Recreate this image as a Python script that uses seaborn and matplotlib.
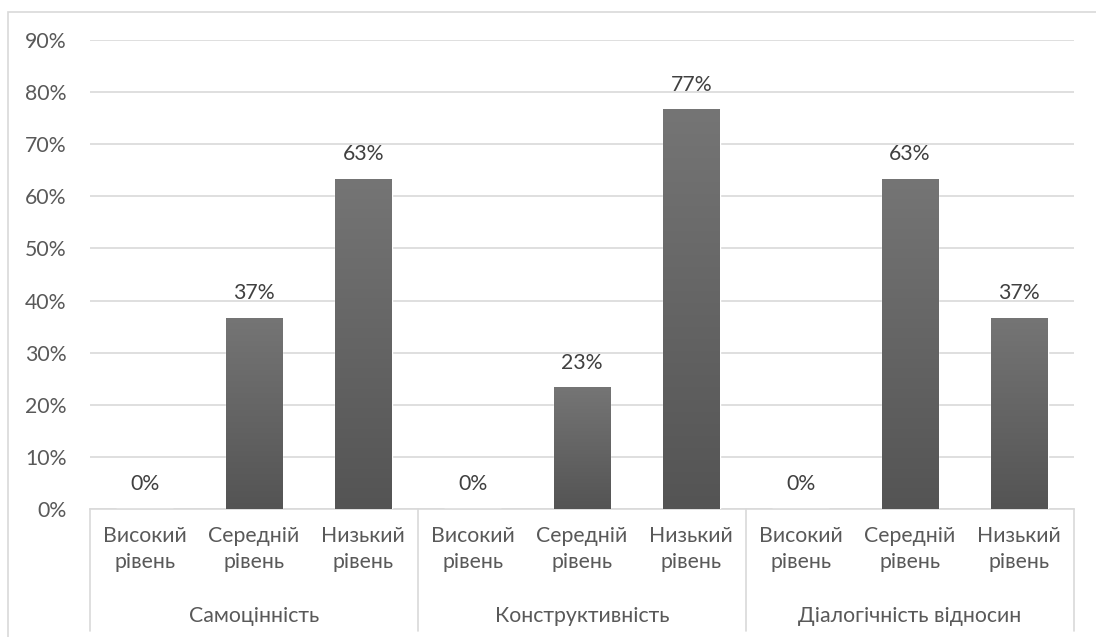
import numpy as np
import pandas as pd
import seaborn as sns
import matplotlib.pyplot as plt
from matplotlib.patches import Rectangle
from matplotlib.colors import LinearSegmentedColormap

sns.set_style("white")
plt.rcParams['font.family'] = ['Lato', 'DejaVu Sans']

groups = ['Самоцінність', 'Конструктивність', 'Діалогічність відносин']
levels = ['Високий\nрівень', 'Середній\nрівень', 'Низький\nрівень']
values = [0.0, 0.3667, 0.6333,
          0.0, 0.2333, 0.7667,
          0.0, 0.6333, 0.3667]
yticks = [0, 0.1, 0.2, 0.3, 0.4, 0.5, 0.6, 0.7, 0.8, 0.9]

FS = 15.3
TXT = '#595959'

df = pd.DataFrame({
    'pos': [f'{g}|{l}' for g in groups for l in levels],
    'value': values,
})

fig = plt.figure(figsize=(10.96, 6.37), dpi=100)
ax = fig.add_axes([90 / 1096, 1 - 509 / 637, (1074 - 90) / 1096, (509 - 40) / 637])

sns.barplot(data=df, x='pos', y='value', color='#5f5f5f', width=0.52,
            saturation=1, ax=ax, zorder=3)

# gradient fill on each bar, darker at the bottom
cmap = LinearSegmentedColormap.from_list('g', ['#545454', '#757575'])
grad = np.linspace(0, 1, 256).reshape(-1, 1)
for bar in ax.patches:
    h = bar.get_height()
    if h <= 0:
        continue
    x0 = bar.get_x()
    w = bar.get_width()
    img = ax.imshow(grad, extent=[x0, x0 + w, 0, h], origin='lower',
                    aspect='auto', cmap=cmap, zorder=4)
    img.set_clip_path(bar)

ax.set_xlim(-0.5, len(values) - 0.5)
ax.set_ylim(0, 0.9)
ax.set_yticks(yticks)
ax.set_yticklabels([f'{int(round(t * 100))}%' for t in yticks], color=TXT, fontsize=FS)
ax.tick_params(axis='y', length=0, pad=17)
ax.yaxis.grid(True, color='#d9d9d9', linewidth=1.2, zorder=0)
ax.set_axisbelow(True)
for s in ['top', 'right', 'left']:
    ax.spines[s].set_visible(False)
ax.spines['bottom'].set_color('#d9d9d9')
ax.spines['bottom'].set_linewidth(1.2)

ax.set_xticks(range(len(values)))
ax.set_xticklabels(levels * len(groups), color=TXT, fontsize=FS, linespacing=1.4)
ax.tick_params(axis='x', length=0, pad=12)
ax.set_xlabel('')
ax.set_ylabel('')

# value labels
for i, v in enumerate(values):
    ax.text(i, v + 0.028, f'{int(round(v * 100))}%', ha='center', va='bottom',
            fontsize=FS, color='#404040', zorder=5)

# group labels and separators below the axis
trans = ax.get_xaxis_transform()
for gi, g in enumerate(groups):
    ax.text(gi * 3 + 1, -0.228, g, transform=trans, ha='center', va='center',
            fontsize=FS, color=TXT)
for k in range(len(groups) + 1):
    ax.plot([k * 3 - 0.5, k * 3 - 0.5], [0, -0.26], transform=trans,
            color='#d9d9d9', linewidth=1.2, clip_on=False)

# outer chart border
fig.patches.append(Rectangle((8 / 1096, -0.01), 1.1, 1 - 12 / 637 + 0.01,
                             transform=fig.transFigure, fill=False,
                             edgecolor='#d9d9d9', linewidth=1.2))

fig.savefig('out.png', dpi=100)
